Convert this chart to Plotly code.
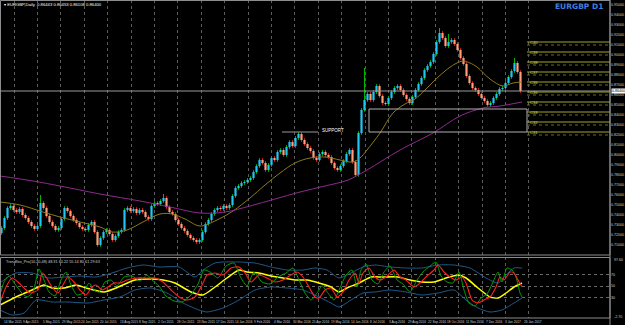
import plotly.graph_objects as go

# ---------------- data ----------------
first_open = 0.722
closes = [0.727, 0.737, 0.747, 0.749, 0.745, 0.743, 0.746, 0.740, 0.737, 0.733,
          0.729, 0.726, 0.729, 0.752, 0.747, 0.739, 0.733, 0.729, 0.725, 0.727,
          0.736, 0.747, 0.744, 0.739, 0.735, 0.732, 0.728, 0.726, 0.725, 0.730,
          0.733, 0.723, 0.710, 0.717, 0.723, 0.725, 0.721, 0.715, 0.719, 0.723,
          0.725, 0.745, 0.747, 0.744, 0.746, 0.742, 0.745, 0.743, 0.738, 0.736,
          0.749, 0.752, 0.751, 0.754, 0.757, 0.748, 0.743, 0.741, 0.735, 0.731,
          0.727, 0.724, 0.720, 0.717, 0.715, 0.713, 0.715, 0.723, 0.731, 0.735,
          0.741, 0.745, 0.747, 0.746, 0.749, 0.747, 0.750, 0.759, 0.767, 0.769,
          0.772, 0.773, 0.775, 0.777, 0.783, 0.789, 0.795, 0.792, 0.785, 0.790,
          0.797, 0.795, 0.803, 0.805, 0.800, 0.808, 0.813, 0.809, 0.817, 0.821,
          0.815, 0.811, 0.807, 0.804, 0.797, 0.795, 0.801, 0.803, 0.800, 0.798,
          0.792, 0.787, 0.785, 0.789, 0.794, 0.801, 0.805, 0.793, 0.780, 0.822,
          0.845, 0.855, 0.861, 0.855, 0.863, 0.869, 0.859, 0.852, 0.851, 0.857,
          0.863, 0.867, 0.869, 0.865, 0.860, 0.856, 0.852, 0.858, 0.865, 0.871,
          0.877, 0.885, 0.889, 0.893, 0.901, 0.913, 0.922, 0.917, 0.909, 0.913,
          0.915, 0.911, 0.905, 0.897, 0.891, 0.879, 0.872, 0.867, 0.865, 0.861,
          0.857, 0.854, 0.850, 0.852, 0.857, 0.861, 0.866, 0.867, 0.872, 0.878,
          0.884, 0.892, 0.883, 0.864]
# a few long upper shadows: bar number -> high
spike_highs = {13: 0.760, 54: 0.761, 121: 0.887, 146: 0.927, 149: 0.921, 171: 0.897}

# moving averages (time in trading-day units, price)
ma_fast_t = [0, 20, 43, 60, 80, 100, 112, 127, 143, 160, 172, 185, 200, 217, 233, 250, 265, 280,
             295, 310, 325, 340, 353, 360, 367, 380, 393, 405, 415, 425, 435, 445, 455, 463, 470,
             477, 490, 503, 513, 522]
ma_fast = [0.753, 0.750, 0.743, 0.738, 0.733, 0.728, 0.723, 0.725, 0.733, 0.741, 0.741, 0.736,
           0.729, 0.735, 0.744, 0.757, 0.770, 0.782, 0.792, 0.797, 0.798, 0.795, 0.793, 0.797,
           0.805, 0.822, 0.842, 0.851, 0.856, 0.865, 0.875, 0.884, 0.891, 0.894, 0.892, 0.888,
           0.876, 0.869, 0.872, 0.873]
ma_slow_t = [0, 33, 60, 100, 140, 170, 200, 225, 250, 275, 300, 325, 348, 367, 400, 433, 460,
             483, 500, 522]
ma_slow = [0.779, 0.774, 0.769, 0.761, 0.754, 0.748, 0.742, 0.743, 0.749, 0.756, 0.763, 0.769,
           0.775, 0.785, 0.805, 0.822, 0.839, 0.847, 0.849, 0.853]

# oscillator window
slow_t = [0, 16, 32, 44, 52, 64, 76, 86, 104, 116, 135, 151, 163, 175, 191, 203, 215, 227, 239,
          247, 259, 271, 283, 295, 307, 319, 331, 339, 347, 359, 371, 382, 398, 410, 422, 434, 446,
          458, 466, 478, 490, 498, 506, 514, 522]
slow_line = [17.7, 31.3, 43.2, 51.7, 46.6, 46.6, 51.7, 46.6, 39.8, 46.6, 60.2, 61.9, 60.2, 55.1,
             39.8, 34.7, 48.3, 63.6, 77.2, 73.8, 72.1, 67.0, 63.6, 60.2, 60.2, 55.1, 48.3, 39.8,
             46.6, 55.1, 65.3, 65.3, 65.3, 60.2, 56.8, 56.8, 63.6, 68.7, 63.6, 46.6, 31.3, 29.6,
             38.1, 48.3, 55.1]
upper_t = [0, 8, 16, 32, 48, 64, 80, 96, 112, 127, 143, 159, 179, 195, 203, 215, 223, 239, 255,
           271, 287, 303, 315, 327, 339, 351, 363, 375, 390, 406, 422, 438, 454, 470, 486, 498,
           506, 514, 522]
upper_band = [55.1, 65.3, 72.1, 72.1, 63.6, 65.3, 67.0, 65.3, 72.1, 80.6, 85.7, 82.3, 82.3, 65.3,
              77.2, 89.1, 90.8, 90.8, 89.1, 82.3, 77.2, 77.2, 80.6, 77.2, 63.6, 72.1, 82.3, 85.7,
              82.3, 80.6, 80.6, 85.7, 85.7, 80.6, 63.6, 55.1, 68.7, 80.6, 80.6]
lower_t = [0, 12, 24, 36, 52, 68, 88, 104, 120, 135, 151, 167, 183, 199, 207, 223, 239, 255, 271,
           287, 303, 319, 331, 339, 351, 363, 375, 390, 406, 422, 438, 454, 466, 478, 490, 502,
           514, 522]
lower_band = [9.2, 0.7, 4.1, 26.2, 22.8, 22.8, 21.1, 26.2, 31.3, 43.2, 46.6, 38.1, 21.1, 9.2, 5.8,
              12.6, 26.2, 43.2, 48.3, 46.6, 43.2, 31.3, 21.1, 14.3, 26.2, 38.1, 39.8, 43.2, 39.8,
              34.7, 38.1, 43.2, 26.2, 12.6, 5.8, 9.2, 21.1, 29.6]
signal_t = [0, 6, 12, 18, 24, 30, 38, 42, 46, 52, 58, 64, 68, 74, 80, 86, 92, 96, 102, 108, 114,
            120, 127, 137, 147, 155, 163, 171, 179, 187, 195, 203, 207, 215, 223, 231, 239, 245,
            251, 259, 267, 275, 283, 291, 297, 303, 309, 315, 319, 325, 331, 337, 343, 349, 355,
            359, 363, 369, 375, 380, 386, 394, 400, 406, 414, 420, 426, 434, 438, 444, 450, 456,
            462, 466, 472, 478, 484, 490, 496, 500, 504, 510, 514, 518, 522]
signal_line = [21.1, 48.3, 63.6, 56.8, 46.6, 38.1, 43.2, 72.1, 65.3, 48.3, 38.1, 55.1, 65.3, 56.8,
               43.2, 34.7, 48.3, 51.7, 43.2, 48.3, 55.1, 55.1, 60.2, 63.6, 63.6, 63.6, 56.8, 43.2,
               31.3, 26.2, 31.3, 55.1, 68.7, 72.1, 68.7, 80.6, 82.3, 72.1, 56.8, 68.7, 63.6, 56.8,
               60.2, 68.7, 73.8, 65.3, 48.3, 31.3, 29.6, 43.2, 46.6, 31.3, 39.8, 60.2, 72.1, 55.1,
               72.1, 80.6, 65.3, 60.2, 65.3, 77.2, 65.3, 60.2, 48.3, 55.1, 65.3, 77.2, 85.7, 73.8,
               65.3, 60.2, 65.3, 55.1, 26.2, 21.1, 26.2, 31.3, 48.3, 65.3, 60.2, 73.8, 72.1, 60.2,
               48.3]
fast_t = [0, 4, 9, 15, 21, 27, 33, 39, 44, 49, 55, 61, 66, 71, 77, 83, 89, 94, 99, 105, 111, 117,
          124, 132, 140, 147, 152, 159, 166, 174, 182, 190, 198, 204, 210, 218, 226, 234, 241, 247,
          254, 262, 270, 278, 286, 293, 299, 305, 311, 317, 322, 328, 334, 340, 346, 352, 357, 361,
          366, 372, 378, 384, 390, 397, 403, 410, 417, 423, 430, 436, 441, 447, 453, 459, 464, 469,
          475, 481, 487, 493, 498, 502, 507, 512, 516, 520, 522]
fast_line = [34.7, 56.8, 67.0, 53.4, 39.8, 31.3, 39.8, 79.0, 60.2, 39.8, 33.0, 60.2, 73.8, 51.7,
             34.7, 38.1, 55.1, 43.2, 39.8, 56.8, 60.2, 50.0, 65.3, 67.0, 58.5, 68.7, 60.2, 50.0,
             33.0, 24.5, 22.8, 33.0, 53.4, 77.2, 73.8, 63.6, 84.0, 89.1, 63.6, 50.0, 73.8, 56.8,
             53.4, 65.3, 72.1, 80.6, 60.2, 38.1, 26.2, 38.1, 50.0, 38.1, 26.2, 46.6, 68.7, 77.2,
             48.3, 77.2, 87.4, 60.2, 53.4, 73.8, 84.0, 60.2, 53.4, 39.8, 60.2, 73.8, 84.0, 90.8,
             67.0, 56.8, 55.1, 73.8, 43.2, 21.1, 16.0, 29.6, 36.4, 56.8, 73.8, 56.8, 80.6, 77.2,
             65.3, 38.1, 31.3]
osc_levels = [70, 50, 30]

# chart objects
level_prices = [0.913, 0.903, 0.893, 0.883, 0.873, 0.863, 0.853, 0.843, 0.833, 0.823]
level_names = ["C40", "C39", "C38", "C37", "C36", "C35", "C34", "C33", "C32", "C31"]
level_start_t = 527
current_price = 0.864
support_box = {"t0": 369, "t1": 527, "p_low": 0.823, "p_high": 0.846}
support_line = {"t0": 282, "t1": 318, "p": 0.823}
support_text = {"t": 320, "p": 0.8245, "text": "SUPPORT"}
price_ticks = [0.95, 0.94, 0.93, 0.92, 0.91, 0.90, 0.89, 0.88, 0.87, 0.86, 0.85, 0.84, 0.83,
               0.82, 0.81, 0.80, 0.79, 0.78, 0.77, 0.76, 0.75, 0.74, 0.73, 0.72, 0.71]
date_labels = ["14 Mar 2015", "9 Apr 2015", "5 May 2015", "29 May 2015", "24 Jun 2015",
               "20 Jul 2015", "13 Aug 2015", "8 Sep 2015", "2 Oct 2015", "28 Oct 2015",
               "23 Nov 2015", "17 Dec 2015", "14 Jan 2016", "9 Feb 2016", "4 Mar 2016",
               "30 Mar 2016", "25 Apr 2016", "19 May 2016", "14 Jun 2016", "8 Jul 2016",
               "3 Aug 2016", "29 Aug 2016", "22 Sep 2016", "18 Oct 2016", "11 Nov 2016",
               "7 Dec 2016", "3 Jan 2017", "26 Jan 2017"]
title_text = "EURGBP,Daily  0.86443 0.86453 0.86108 0.86400"
osc_title = "Trendflex_Pro(10,20,48) 48.31 60.22 55.14 80.61 29.63"

# ---------------- layout constants ----------------
W, H = 625, 325
PLOT_R = 610
MAIN_TOP, MAIN_BOT = 0, 255
IND_TOP, IND_BOT = 257, 318
BAR_X0, BAR_STEP, BODY_W = 1.5, 3.0, 2.2
WICK = 0.0018
GRID_X0, GRID_STEP, GRID_N = 14, 23.4, 23
LABEL_X0, LABEL_STEP = 2, 19.26
TXT = "#cfcfcf"
FONT = "Liberation Sans"


def px_x(p):
    return p / W


def px_y(p):
    return 1 - p / H


# ---------------- candles ----------------
opens = [first_open] + closes[:-1]
t_bars = [BAR_X0 + BAR_STEP * i for i in range(len(closes))]

wick_up_x, wick_up_y, wick_dn_x, wick_dn_y = [], [], [], []
body_up_x, body_up_y, body_dn_x, body_dn_y = [], [], [], []
for i, (t, o, c) in enumerate(zip(t_bars, opens, closes)):
    hi = max(max(o, c) + WICK, spike_highs.get(i, 0))
    lo = min(o, c) - WICK
    if c >= o:
        wick_up_x += [t, t, None]; wick_up_y += [lo, hi, None]
        body_up_x += [t, t, None]; body_up_y += [o, c, None]
    else:
        wick_dn_x += [t, t, None]; wick_dn_y += [lo, hi, None]
        body_dn_x += [t, t, None]; body_dn_y += [o, c, None]

fig = go.Figure()
fig.add_trace(go.Scatter(x=wick_up_x, y=wick_up_y, mode="lines", line=dict(color="#00b400", width=1),
                         hoverinfo="skip", showlegend=False))
fig.add_trace(go.Scatter(x=wick_dn_x, y=wick_dn_y, mode="lines", line=dict(color="#e01e1e", width=1),
                         hoverinfo="skip", showlegend=False))
fig.add_trace(go.Scatter(x=body_up_x, y=body_up_y, mode="lines", line=dict(color="#1ec8f5", width=BODY_W),
                         hoverinfo="skip", showlegend=False))
fig.add_trace(go.Scatter(x=body_dn_x, y=body_dn_y, mode="lines", line=dict(color="#ffa07a", width=BODY_W),
                         hoverinfo="skip", showlegend=False))
fig.add_trace(go.Scatter(x=ma_fast_t, y=ma_fast, mode="lines", line=dict(color="#8c7a1c", width=1, shape="spline"),
                         showlegend=False))
fig.add_trace(go.Scatter(x=ma_slow_t, y=ma_slow, mode="lines", line=dict(color="#8e2a8e", width=1, shape="spline"),
                         showlegend=False))

# ---------------- oscillator ----------------
for tt, vv, col, wd in [(upper_t, upper_band, "#1f5a8a", 1), (lower_t, lower_band, "#1f5a8a", 1),
                        (slow_t, slow_line, "#ffff00", 1.5), (fast_t, fast_line, "#00a000", 1),
                        (signal_t, signal_line, "#ff2020", 1.1)]:
    fig.add_trace(go.Scatter(x=tt, y=vv, mode="lines", xaxis="x2", yaxis="y2",
                             line=dict(color=col, width=wd, shape="spline", smoothing=0.6),
                             showlegend=False))

shapes = []
annotations = []

# panel frames
for top, bot in [(MAIN_TOP, MAIN_BOT), (IND_TOP, IND_BOT)]:
    shapes.append(dict(type="rect", xref="paper", yref="paper", x0=px_x(0.5), x1=px_x(PLOT_R),
                       y0=px_y(bot), y1=px_y(top + 0.5), line=dict(color="#8c8c8c", width=1)))
shapes.append(dict(type="line", xref="paper", yref="paper", x0=px_x(PLOT_R), x1=px_x(PLOT_R),
                   y0=0, y1=1, line=dict(color="#8c8c8c", width=1)))

# current price line
shapes.append(dict(type="line", xref="paper", yref="y", x0=0, x1=px_x(PLOT_R), y0=current_price,
                   y1=current_price, line=dict(color="#9a9a9a", width=1)))
# support box and line
shapes.append(dict(type="rect", xref="x", yref="y", x0=support_box["t0"], x1=support_box["t1"],
                   y0=support_box["p_low"], y1=support_box["p_high"], line=dict(color="#b0b0b0", width=1)))
shapes.append(dict(type="line", xref="x", yref="y", x0=support_line["t0"], x1=support_line["t1"],
                   y0=support_line["p"], y1=support_line["p"], line=dict(color="#9a9a9a", width=1)))
annotations.append(dict(x=support_text["t"], y=support_text["p"], xref="x", yref="y", text=support_text["text"],
                        showarrow=False, xanchor="left", yanchor="middle",
                        font=dict(size=4.5, color="#ffffff", family=FONT)))

# yellow levels
for lp, ln in zip(level_prices, level_names):
    shapes.append(dict(type="line", xref="x", yref="y", x0=level_start_t, x1=PLOT_R, y0=lp, y1=lp,
                       line=dict(color="#a3a32a", width=1)))
    annotations.append(dict(x=level_start_t + 1, y=lp, xref="x", yref="y", text=ln, showarrow=False,
                            xanchor="left", yanchor="middle",
                            font=dict(size=4.2, color="#d2d24a", family=FONT)))
for pt in price_ticks:
    if min(level_prices) - 0.005 < pt < max(level_prices):
        shapes.append(dict(type="line", xref="x", yref="y", x0=level_start_t, x1=PLOT_R, y0=pt, y1=pt,
                           line=dict(color="#6a6a28", width=1, dash="dot")))

# current price label on the axis
annotations.append(dict(x=px_x(PLOT_R + 1), y=current_price, xref="paper", yref="y",
                        text=f"{current_price:.5f}", showarrow=False, xanchor="left", yanchor="middle",
                        bgcolor="#ffffff", borderpad=0,
                        font=dict(size=3.6, color="#000000", family=FONT)))

# titles
annotations.append(dict(x=px_x(2), y=px_y(4), xref="paper", yref="paper", text="▾ " + title_text,
                        showarrow=False, xanchor="left", yanchor="middle",
                        font=dict(size=4.2, color="#ffffff", family=FONT)))
annotations.append(dict(x=px_x(605), y=px_y(7), xref="paper", yref="paper", text="<b>EURGBP D1</b>",
                        showarrow=False, xanchor="right", yanchor="middle",
                        font=dict(size=7.5, color="#3f7fe0", family="DejaVu Sans")))
annotations.append(dict(x=px_x(4), y=px_y(261.5), xref="paper", yref="paper", text=osc_title,
                        showarrow=False, xanchor="left", yanchor="middle",
                        font=dict(size=3.8, color=TXT, family=FONT)))
annotations.append(dict(x=px_x(PLOT_R + 2), y=px_y(260), xref="paper", yref="paper", text="97.60",
                        showarrow=False, xanchor="left", yanchor="middle", font=dict(size=3.6, color=TXT, family=FONT)))
annotations.append(dict(x=px_x(PLOT_R + 2), y=px_y(316.5), xref="paper", yref="paper", text="-2.70",
                        showarrow=False, xanchor="left", yanchor="middle", font=dict(size=3.6, color=TXT, family=FONT)))

# date labels
for k, lab in enumerate(date_labels):
    annotations.append(dict(x=px_x(LABEL_X0 + LABEL_STEP * k), y=px_y(321.5), xref="paper", yref="paper",
                            text=lab, showarrow=False, xanchor="left", yanchor="middle",
                            font=dict(size=3.2, color=TXT, family=FONT)))

grid_vals = [GRID_X0 + GRID_STEP * k for k in range(GRID_N)]
xcommon = dict(domain=[0, px_x(PLOT_R)], range=[0, PLOT_R], tickvals=grid_vals, showticklabels=False,
               showgrid=True, griddash="dot", gridcolor="#5c5c5c", gridwidth=1, zeroline=False,
               showline=False, ticks="")

fig.update_layout(
    width=W, height=H, margin=dict(l=0, r=0, t=0, b=0),
    paper_bgcolor="#000000", plot_bgcolor="#000000",
    showlegend=False,
    xaxis=dict(anchor="y", **xcommon),
    xaxis2=dict(anchor="y2", matches="x", **xcommon),
    yaxis=dict(domain=[px_y(MAIN_BOT), px_y(MAIN_TOP)], range=[0.700, 0.955], side="right",
               tickvals=price_ticks, tickformat=".5f", showgrid=False, zeroline=False, ticks="",
               tickfont=dict(size=3.6, color=TXT, family=FONT)),
    yaxis2=dict(domain=[px_y(IND_BOT), px_y(IND_TOP)], range=[-4.4, 99.3], side="right",
                tickvals=osc_levels, showgrid=True, griddash="dot", gridcolor="#6a6a6a", zeroline=False,
                ticks="", tickfont=dict(size=3.6, color=TXT, family=FONT)),
    shapes=shapes, annotations=annotations,
)

fig.write_html("out.html")
